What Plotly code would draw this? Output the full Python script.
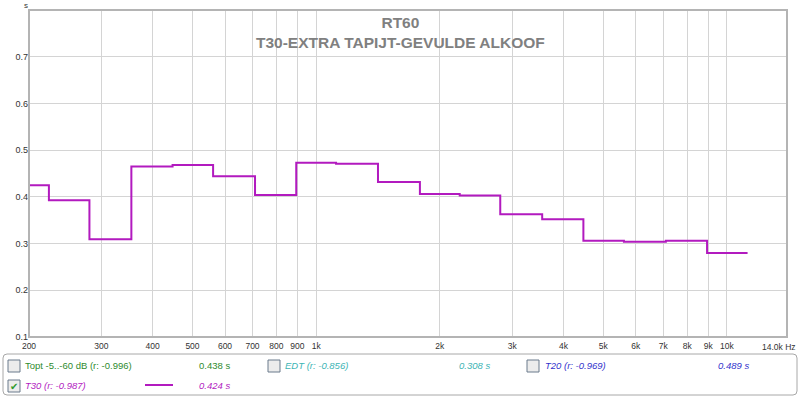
import math
import plotly.graph_objects as go

# ---- data ----
band_centers = [200, 250, 315, 400, 500, 630, 800, 1000, 1250, 1600, 2000,
                2500, 3150, 4000, 5000, 6300, 8000, 10000]
t30_values = [0.425, 0.393, 0.309, 0.465, 0.468, 0.444, 0.404, 0.473, 0.471,
              0.432, 0.406, 0.403, 0.363, 0.352, 0.306, 0.304, 0.306, 0.280]
x_tickvals = [200, 300, 400, 500, 600, 700, 800, 900, 1000, 2000, 3000, 4000,
              5000, 6000, 7000, 8000, 9000, 10000]
x_ticktext = ["200", "300", "400", "500", "600", "700", "800", "900", "1k",
              "2k", "3k", "4k", "5k", "6k", "7k", "8k", "9k", "10k"]
y_tickvals = [0.1, 0.2, 0.3, 0.4, 0.5, 0.6, 0.7, 0.8]
y_ticktext = ["0.1", "0.2", "0.3", "0.4", "0.5", "0.6", "0.7", ""]
legend_names = ["Topt -5..-60 dB (r: -0.996)", "EDT (r: -0.856)",
                "T20 (r: -0.969)", "T30 (r: -0.987)"]
legend_values = ["0.438 s", "0.308 s", "0.489 s", "0.424 s"]

# ---- figure geometry ----
W, H = 800, 397
L, R, T, B = 29, 13, 10, 60
PW, PH = W - L - R, H - T - B


def px(x):
    return (x - L) / PW


def py(y):
    return (H - B - y) / PH


# band edges for stepped line
half = 2 ** (1 / 6)
edges = [band_centers[0] / half]
for a, b in zip(band_centers[:-1], band_centers[1:]):
    edges.append(math.sqrt(a * b))
edges.append(band_centers[-1] * half)
step_y = t30_values + [t30_values[-1]]

MAG = "#b21abf"

fig = go.Figure()
fig.add_trace(go.Scatter(x=edges, y=step_y, mode="lines",
                         line=dict(color=MAG, width=2, shape="hv"),
                         hoverinfo="skip", showlegend=False))

fig.update_layout(
    width=W, height=H,
    margin=dict(l=L, r=R, t=T, b=B, autoexpand=False),
    paper_bgcolor="white", plot_bgcolor="white",
    font=dict(family="Liberation Sans, Arial, sans-serif", color="#333333"),
    showlegend=False,
    xaxis=dict(type="log", range=[math.log10(200), math.log10(14000)],
               tickvals=x_tickvals, ticktext=x_ticktext, automargin=False,
               showgrid=True, gridcolor="#d4d4d4", gridwidth=1,
               zeroline=False, showline=False, ticks="", ticklabelstandoff=2,
               tickfont=dict(size=8.5, color="#333333")),
    yaxis=dict(range=[0.1, 0.8], tickvals=y_tickvals, ticktext=y_ticktext,
               automargin=False,
               showgrid=True, gridcolor="#d4d4d4", gridwidth=1,
               zeroline=False, showline=False, ticks="",
               tickfont=dict(size=9, color="#333333")),
)

shapes = []
# plot frame
shapes.append(dict(type="rect", xref="paper", yref="paper", x0=0, x1=1, y0=0, y1=1,
                   line=dict(color="#b4b4b4", width=2), layer="above"))
# legend box (rounded)
x0, x1, y0, y1, r = px(3), px(797), py(395), py(354), 4
rx, ry = r / PW, r / PH
path = (f"M {x0+rx},{y1} L {x1-rx},{y1} Q {x1},{y1} {x1},{y1-ry} "
        f"L {x1},{y0+ry} Q {x1},{y0} {x1-rx},{y0} L {x0+rx},{y0} "
        f"Q {x0},{y0} {x0},{y0+ry} L {x0},{y1-ry} Q {x0},{y1} {x0+rx},{y1} Z")
shapes.append(dict(type="path", xref="paper", yref="paper", path=path,
                   line=dict(color="#a8a8a8", width=1), fillcolor="white"))

colors = ["#2e8b2e", "#3cb4b4", "#3333cc", MAG]
italic = [False, True, True, True]
box_pos = [(8, 360), (268, 360), (527, 360), (8, 380)]
text_x = [23, 283, 543, 23]
val_x = [232, 492, 751, 232]
rows_y = [365.5, 365.5, 365.5, 385.5]

for i in range(4):
    bx, by = box_pos[i]
    shapes.append(dict(type="rect", xref="paper", yref="paper",
                       x0=px(bx), x1=px(bx + 12), y0=py(by + 12), y1=py(by),
                       line=dict(color="#6b7b8c", width=1), fillcolor="#ececec"))

# T30 line sample in legend
shapes.append(dict(type="line", xref="paper", yref="paper",
                   x0=px(145), x1=px(173), y0=py(385), y1=py(385),
                   line=dict(color=MAG, width=2)))

ann = []
ann.append(dict(text="<b>RT60</b><br><b>T30-EXTRA TAPIJT-GEVULDE ALKOOF</b>",
                x=px(400), y=py(12), xref="paper", yref="paper",
                xanchor="center", yanchor="top", showarrow=False,
                font=dict(size=15.5, color="#808080"), align="center"))
ann.append(dict(text="s", x=px(26), y=py(5), xref="paper", yref="paper",
                xanchor="center", yanchor="middle", showarrow=False,
                font=dict(size=8, color="#333333")))
ann.append(dict(text="14.0k Hz", x=px(798), y=py(347), xref="paper", yref="paper",
                xanchor="right", yanchor="middle", showarrow=False,
                font=dict(size=8.5, color="#333333")))
for i in range(4):
    nm = f"<i>{legend_names[i]}</i>" if italic[i] else legend_names[i]
    vl = f"<i>{legend_values[i]}</i>" if italic[i] else legend_values[i]
    ann.append(dict(text=nm, x=px(text_x[i]), y=py(rows_y[i]), xref="paper",
                    yref="paper", xanchor="left", yanchor="middle", showarrow=False,
                    font=dict(size=9.5, color=colors[i])))
    ann.append(dict(text=vl, x=px(val_x[i]), y=py(rows_y[i]), xref="paper",
                    yref="paper", xanchor="right", yanchor="middle", showarrow=False,
                    font=dict(size=9.5, color=colors[i])))
# check mark on T30
ann.append(dict(text="✔", x=px(14), y=py(386), xref="paper", yref="paper",
                xanchor="center", yanchor="middle", showarrow=False,
                font=dict(size=10, color="#2e9a2e", family="DejaVu Sans")))

fig.update_layout(shapes=shapes, annotations=ann)
fig.write_html("out.html",
               config={"displayModeBar": False, "staticPlot": True},
               post_script="document.body.style.margin='0';"
                           "document.body.style.overflow='hidden';")
